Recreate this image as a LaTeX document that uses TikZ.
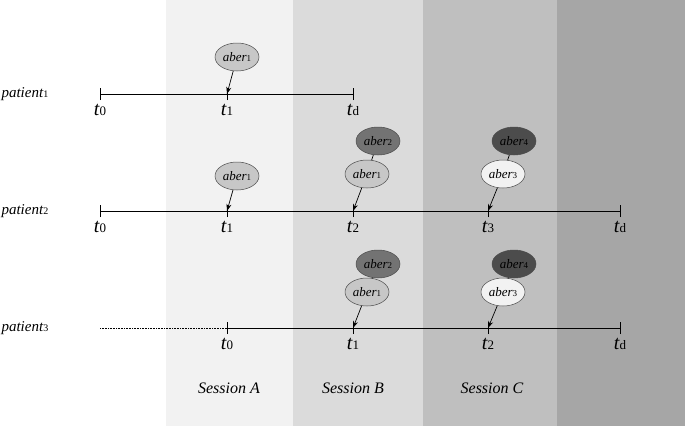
\documentclass[tikz,border=0pt]{standalone}
\usepackage{fontspec}
\setmainfont{Liberation Serif}
\usetikzlibrary{arrows.meta,shapes.geometric}
\newcommand{\ab}[1]{\textit{aber}{\fontsize{9}{9}\selectfont #1}}
\newcommand{\tl}[1]{\textit{t}{\fontsize{13}{13}\selectfont #1}}
\newcommand{\pt}[1]{\textit{patient}{\fontsize{10}{10}\selectfont #1}}
\begin{document}
\begin{tikzpicture}[x=1pt,y=-1pt,
 ab/.style={ellipse,draw=black!70,line width=0.5pt,minimum width=44pt,minimum height=28pt,inner sep=0pt,font=\fontsize{13}{13}\selectfont},
 tlab/.style={font=\fontsize{20}{20}\selectfont,anchor=north},
 plab/.style={font=\fontsize{15}{15}\selectfont,anchor=west},
 tick/.style={line width=0.7pt},
 arr/.style={-{Stealth[length=7pt,width=5pt]},line width=0.7pt}]
\useasboundingbox (0,0) rectangle (685,426);
\fill[white] (0,0) rectangle (166,426);
\fill[black!5] (166,0) rectangle (293,426);
\fill[black!14] (293,0) rectangle (423,426);
\fill[black!25] (423,0) rectangle (557,426);
\fill[black!35] (557,0) rectangle (685,426);
% patient 1
\node[plab] (p1) at (-2,94) {\pt{1}};
\coordinate (a0) at (100,94); \coordinate (a1) at (227,94); \coordinate (ad) at (353,94);
\draw[tick] (a0) -- (ad);
\foreach \c in {a0,a1,ad} \draw[tick] ([yshift=-6pt]\c) -- ([yshift=6pt]\c);
\node[tlab] (la0) at (100,101) {\tl{0}};
\node[tlab] (la1) at (227,101) {\tl{1}};
\node[tlab] (lad) at (353,101) {\tl{d}};
\node[ab,fill=black!22] (e11) at (237,57) {\ab{1}};
\draw[arr] (e11) -- (a1);
% patient 2
\node[plab] (p2) at (-2,211) {\pt{2}};
\coordinate (b0) at (100,211); \coordinate (b1) at (227,211); \coordinate (b2) at (353,211);
\coordinate (b3) at (488,211); \coordinate (bd) at (620,211);
\draw[tick] (b0) -- (bd);
\foreach \c in {b0,b1,b2,b3,bd} \draw[tick] ([yshift=-6pt]\c) -- ([yshift=6pt]\c);
\node[tlab] (lb0) at (100,218) {\tl{0}};
\node[tlab] (lb1) at (227,218) {\tl{1}};
\node[tlab] (lb2) at (353,218) {\tl{2}};
\node[tlab] (lb3) at (488,218) {\tl{3}};
\node[tlab] (lbd) at (620,218) {\tl{d}};
\node[ab,fill=black!22] (e21) at (237,176) {\ab{1}};
\draw[arr] (e21) -- (b1);
\node[ab,fill=black!55] (e22) at (378,141) {\ab{2}};
\node[ab,fill=black!22] (e23) at (367,174) {\ab{1}};
\draw[tick] (e22) -- (e23);
\draw[arr] (e23) -- (b2);
\node[ab,fill=black!70] (e24) at (514,141) {\ab{4}};
\node[ab,fill=black!5] (e25) at (503,174) {\ab{3}};
\draw[tick] (e24) -- (e25);
\draw[arr] (e25) -- (b3);
% patient 3
\node[plab] (p3) at (-2,328) {\pt{3}};
\coordinate (cs) at (100,328); \coordinate (c0) at (227,328); \coordinate (c1) at (353,328);
\coordinate (c2) at (488,328); \coordinate (cd) at (620,328);
\draw[densely dotted,line width=0.6pt] (cs) -- (c0);
\draw[tick] (c0) -- (cd);
\foreach \c in {c0,c1,c2,cd} \draw[tick] ([yshift=-6pt]\c) -- ([yshift=6pt]\c);
\node[tlab] (lc0) at (227,335) {\tl{0}};
\node[tlab] (lc1) at (353,335) {\tl{1}};
\node[tlab] (lc2) at (488,335) {\tl{2}};
\node[tlab] (lcd) at (620,335) {\tl{d}};
\node[ab,fill=black!55] (e32) at (378,264) {\ab{2}};
\node[ab,fill=black!22] (e31) at (367,292) {\ab{1}};
\draw[tick] (e32) -- (e31);
\draw[arr] (e31) -- (c1);
\node[ab,fill=black!70] (e34) at (514,264) {\ab{4}};
\node[ab,fill=black!5] (e33) at (503,292) {\ab{3}};
\draw[tick] (e34) -- (e33);
\draw[arr] (e33) -- (c2);
% sessions
\node[font=\fontsize{16}{16}\selectfont\itshape] (sa) at (229,388) {Session A};
\node[font=\fontsize{16}{16}\selectfont\itshape] (sb) at (353,388) {Session B};
\node[font=\fontsize{16}{16}\selectfont\itshape] (sc) at (492,388) {Session C};
\end{tikzpicture}
\end{document}
